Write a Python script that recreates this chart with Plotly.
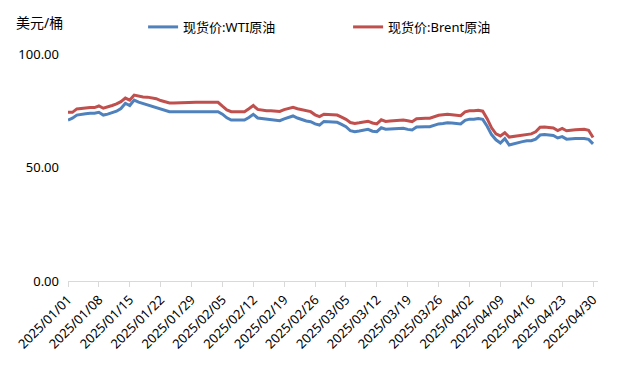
import pandas as pd
import plotly.graph_objects as go

dates = pd.date_range("2025-01-01", "2025-04-30", freq="D")

wti = [70.9, 71.7, 73.1, 73.5, 73.7, 73.9, 73.9, 74.3, 73.1, 73.5,
       74.1, 74.8, 76.0, 78.3, 77.3, 79.7, 78.8, 78.2, 77.8, 77.3,
       76.6, 75.9, 75.2, 74.6, 74.6, 74.6, 74.6, 74.6, 74.6, 74.6,
       74.6, 74.6, 74.6, 74.6, 74.6, 73.5, 71.9, 70.9, 70.9, 70.9,
       70.9, 72.0, 73.4, 71.8, 71.5, 71.2, 71.0, 70.9, 70.6, 71.4,
       72.2, 72.7, 71.8, 71.0, 70.5, 70.2, 69.2, 68.7, 70.3, 70.2,
       70.0, 69.9, 69.0, 68.0, 66.2, 65.8, 66.1, 66.5, 66.8, 66.0,
       65.8, 67.5, 66.9, 67.0, 67.1, 67.2, 67.3, 66.8, 66.5, 67.8,
       68.0, 68.0, 68.0, 68.6, 69.2, 69.4, 69.7, 69.6, 69.4, 69.2,
       70.8, 71.3, 71.3, 71.6, 71.2, 68.2, 64.5, 62.2, 60.8, 62.7,
       59.9, 60.5, 61.0, 61.4, 61.8, 61.8, 62.5, 64.3, 64.5, 64.3,
       64.1, 63.0, 63.6, 62.5, 62.8, 62.8, 62.8, 62.8, 62.4, 60.4]

brent = [74.3, 74.3, 75.8, 76.1, 76.2, 76.4, 76.4, 77.1, 76.1, 76.6,
         77.3, 78.0, 79.0, 80.6, 79.7, 81.9, 81.4, 81.1, 81.0, 80.8,
         80.3, 79.5, 79.1, 78.4, 78.4, 78.5, 78.7, 78.7, 78.7, 78.7,
         78.7, 78.7, 78.7, 78.7, 78.7, 77.0, 75.4, 74.6, 74.6, 74.6,
         74.6, 75.9, 77.3, 75.6, 75.2, 75.0, 75.0, 75.0, 74.7, 75.5,
         76.1, 76.5, 75.9, 75.4, 75.0, 74.6, 73.2, 72.4, 73.5, 73.4,
         73.2, 73.1, 72.2, 71.2, 69.8, 69.4, 69.7, 70.0, 70.4, 69.6,
         69.2, 71.0, 70.3, 70.5, 70.6, 70.8, 70.9, 70.6, 70.2, 71.5,
         71.7, 71.7, 71.7, 72.4, 73.0, 73.2, 73.4, 73.2, 73.0, 72.8,
         74.5, 75.0, 75.0, 75.2, 74.8, 71.5, 67.5, 64.8, 63.9, 65.3,
         63.4, 63.7, 64.1, 64.5, 64.6, 64.8, 65.7, 67.7, 67.8, 67.6,
         67.4, 66.3, 67.2, 66.2, 66.5, 66.6, 66.7, 66.8, 66.4, 63.2]

series_names = ["现货价:WTI原油", "现货价:Brent原油"]
y_ticks = [0, 50, 100]
tick_dates = pd.date_range("2025-01-01", "2025-04-30", freq="7D")

FONT = "Noto Sans, Noto Sans CJK SC, sans-serif"

fig = go.Figure()
fig.add_trace(go.Scatter(x=dates, y=wti, mode="lines", name=series_names[0],
                         line=dict(color="#4F81BD", width=3)))
fig.add_trace(go.Scatter(x=dates, y=brent, mode="lines", name=series_names[1],
                         line=dict(color="#C0504D", width=3)))

fig.update_layout(
    width=614, height=351,
    margin=dict(l=60, r=24, t=46, b=78, autoexpand=False),
    paper_bgcolor="white", plot_bgcolor="white",
    font=dict(family=FONT, size=13, color="#000000"),
    showlegend=True,
    legend=dict(orientation="h", xref="container", yref="container",
                x=0.22, xanchor="left", y=0.946, yanchor="middle",
                font=dict(size=13), itemwidth=30, entrywidth=160,
                bgcolor="rgba(0,0,0,0)"),
    annotations=[dict(text="美元/桶", x=0, xref="paper", xanchor="left",
                      xshift=-54, y=1.14, yref="paper", yanchor="middle",
                      showarrow=False, font=dict(size=14))],
)

fig.update_xaxes(
    range=["2025-01-01", "2025-05-01 03:00"],
    tickvals=tick_dates, tickformat="%Y/%m/%d", tickangle=-45,
    showgrid=False, showline=True, linecolor="#d9d9d9", linewidth=1,
    ticks="outside", ticklen=5, tickcolor="#d9d9d9",
    tickfont=dict(size=13), zeroline=False, automargin=False,
)
fig.update_yaxes(
    range=[0, 100], tickvals=y_ticks, tickformat=".2f",
    showgrid=False, showline=False, zeroline=False,
    ticks="", ticklabelstandoff=8, tickfont=dict(size=13), automargin=False,
)

fig.write_html("out.html")
